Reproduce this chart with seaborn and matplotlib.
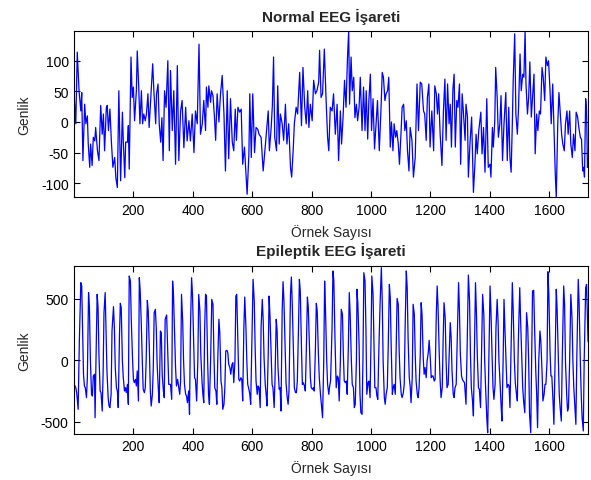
import matplotlib
matplotlib.use('Agg')
import matplotlib.pyplot as plt
import seaborn as sns

# Values (sample index, amplitude) at the visible turning points
normal_sample = [
    1, 6, 11, 17, 23, 26, 30, 36, 40, 45,
    48, 53, 56, 61, 65, 70, 73, 79, 84, 90,
    95, 99, 103, 109, 112, 116, 121, 126, 131, 137,
    141, 146, 151, 157, 163, 166, 171, 174, 180, 183,
    186, 192, 196, 200, 204, 210, 213, 218, 222, 227,
    231, 235, 240, 244, 249, 253, 260, 265, 269, 275,
    278, 283, 287, 292, 296, 300, 305, 310, 316, 321,
    325, 331, 336, 342, 348, 353, 359, 364, 370, 376,
    381, 387, 392, 398, 404, 409, 415, 418, 421, 426,
    432, 437, 443, 446, 451, 454, 460, 463, 468, 473,
    477, 482, 488, 493, 499, 505, 510, 516, 521, 527,
    533, 538, 543, 547, 552, 558, 563, 568, 574, 579,
    583, 589, 592, 597, 602, 608, 613, 619, 623, 630,
    637, 642, 648, 654, 658, 664, 668, 672, 676, 682,
    686, 691, 695, 701, 706, 712, 717, 723, 729, 733,
    738, 742, 748, 753, 760, 766, 771, 777, 782, 787,
    791, 796, 802, 807, 813, 818, 824, 827, 832, 837,
    843, 849, 854, 858, 863, 869, 874, 880, 886, 891,
    897, 901, 906, 911, 916, 921, 925, 928, 933, 937,
    942, 946, 951, 955, 960, 964, 970, 975, 980, 984,
    989, 993, 998, 1002, 1007, 1012, 1017, 1022, 1028, 1034,
    1038, 1042, 1047, 1051, 1056, 1060, 1065, 1069, 1074, 1078,
    1083, 1087, 1092, 1096, 1101, 1105, 1110, 1114, 1119, 1123,
    1128, 1132, 1138, 1143, 1149, 1155, 1160, 1166, 1171, 1177,
    1181, 1186, 1190, 1195, 1199, 1205, 1211, 1215, 1220, 1224,
    1228, 1233, 1239, 1244, 1249, 1253, 1258, 1263, 1267, 1271,
    1276, 1280, 1284, 1289, 1293, 1298, 1302, 1307, 1311, 1317,
    1320, 1325, 1328, 1334, 1339, 1345, 1350, 1354, 1358, 1363,
    1370, 1374, 1379, 1384, 1390, 1395, 1401, 1404, 1409, 1412,
    1417, 1420, 1425, 1429, 1434, 1438, 1443, 1448, 1454, 1459,
    1464, 1468, 1472, 1476, 1479, 1484, 1488, 1493, 1497, 1502,
    1506, 1511, 1515, 1519, 1522, 1527, 1531, 1535, 1540, 1544,
    1549, 1553, 1558, 1562, 1567, 1571, 1576, 1580, 1585, 1589,
    1594, 1598, 1603, 1607, 1612, 1616, 1621, 1624, 1629, 1633,
    1637, 1642, 1646, 1651, 1655, 1660, 1664, 1669, 1673, 1678,
    1682, 1687, 1691, 1696, 1700, 1705, 1709, 1713, 1716, 1719,
    1723, 1726, 1729, 1731,
]
normal_amp = [
    40, -3, 114, 51, 18, 48, -63, 29, -3, 10,
    -36, -74, -36, -71, -25, -31, -9, -47, -63, 27,
    -20, 13, -47, 24, 27, -14, 21, -33, -74, -58,
    -91, -107, 51, -96, 16, -31, -91, -33, -33, -6,
    -77, 106, 40, 57, 2, 51, 116, 57, -3, 51,
    -3, 13, 2, 13, 46, -9, 51, 95, 51, -3,
    46, 62, -3, -33, 7, -63, 51, 24, 100, -47,
    84, -14, 51, -69, 92, -63, 18, 35, -42, 24,
    -31, 2, -31, 13, -50, 18, -3, 62, 127, -20,
    -3, 35, -14, 57, 24, 59, 32, 51, 43, 8,
    -30, 46, 0, 43, 76, 13, -80, 51, -60, 38,
    -33, -47, 21, -30, 24, 16, 21, -69, -41, -85,
    -118, -52, 46, -58, 46, -50, -9, -12, -20, -25,
    -80, -52, -17, 18, -47, -9, 27, 106, -25, -47,
    59, -36, 13, -3, -30, 29, -36, -3, -74, -90,
    -47, -3, 24, 13, 81, -6, 89, 24, -3, 51,
    -9, 29, 2, 68, 46, 51, 65, 117, 40, 46,
    119, 35, -25, -47, 24, 18, 46, -20, 29, -63,
    18, -36, 7, 68, 24, 106, 149, 29, 106, 51,
    73, 7, 29, 2, 24, 73, -14, 57, -14, 51,
    -28, 35, 78, -14, 38, -44, -3, 35, -47, 24,
    81, 73, 35, 46, 51, 73, -41, 0, -47, -3,
    -25, -14, -36, -69, -20, 24, 29, -14, 2, -47,
    -80, -9, -30, -90, -58, 62, -14, 65, 62, 18,
    13, -30, 40, 62, -41, 18, -47, 59, 46, 13,
    46, -20, -71, 18, 70, -30, 62, -3, 29, -41,
    54, 78, -41, 35, 24, 62, -69, 46, 18, -30,
    29, 8, -90, -30, 8, -115, -69, -20, -52, -14,
    16, -52, -9, -82, 38, -74, -69, -90, -9, -41,
    2, 89, 40, -25, -3, 43, -63, -3, 48, -63,
    24, -58, -82, -3, 68, 144, 13, -20, 24, 111,
    51, 78, 73, 149, 62, 13, 40, 98, 8, 40,
    78, -52, 13, -14, 18, 13, 89, 73, 35, 106,
    92, 100, 51, -3, 62, -3, -90, -123, -3, 48,
    18, -20, -36, -47, -3, 18, -20, 18, -36, -58,
    -20, -47, 16, 8, -9, -25, -28, -80, -74, -90,
    38, 18, -74, -60,
]

epileptic_sample = [
    1, 6, 9, 14, 18, 23, 26, 30, 32, 35,
    38, 42, 45, 49, 52, 55, 59, 62, 65, 69,
    71, 74, 78, 81, 84, 88, 91, 95, 98, 101,
    105, 108, 111, 115, 118, 121, 125, 128, 133, 136,
    139, 143, 146, 149, 153, 156, 159, 163, 166, 170,
    173, 176, 180, 183, 186, 190, 193, 197, 200, 203,
    207, 210, 213, 217, 220, 223, 227, 230, 233, 237,
    240, 243, 247, 250, 254, 257, 260, 264, 267, 270,
    274, 277, 280, 284, 287, 291, 294, 297, 301, 304,
    307, 312, 315, 319, 322, 325, 329, 332, 335, 339,
    342, 345, 349, 352, 356, 359, 362, 366, 369, 372,
    376, 379, 382, 386, 389, 392, 396, 399, 403, 406,
    409, 413, 417, 420, 424, 427, 431, 434, 437, 440,
    443, 446, 450, 453, 456, 460, 464, 468, 471, 474,
    478, 481, 484, 488, 491, 495, 498, 501, 505, 508,
    511, 515, 518, 521, 525, 528, 532, 535, 538, 542,
    545, 548, 552, 555, 558, 562, 565, 568, 572, 575,
    579, 582, 585, 589, 592, 595, 599, 603, 607, 610,
    613, 617, 620, 623, 627, 630, 634, 637, 640, 644,
    647, 650, 654, 657, 660, 664, 667, 670, 674, 677,
    681, 684, 687, 691, 694, 697, 701, 704, 707, 711,
    714, 718, 721, 724, 729, 732, 735, 739, 742, 746,
    749, 752, 756, 759, 762, 766, 769, 772, 776, 779,
    782, 786, 789, 793, 796, 799, 803, 806, 809, 813,
    816, 819, 823, 826, 830, 834, 837, 841, 844, 847,
    851, 854, 858, 861, 864, 869, 872, 875, 879, 883,
    887, 890, 893, 897, 900, 904, 907, 910, 914, 917,
    920, 924, 927, 930, 934, 937, 941, 944, 947, 951,
    953, 956, 960, 963, 966, 970, 973, 976, 980, 983,
    986, 990, 993, 997, 1000, 1003, 1007, 1010, 1013, 1017,
    1020, 1023, 1027, 1031, 1035, 1038, 1041, 1045, 1048, 1051,
    1055, 1058, 1062, 1065, 1068, 1072, 1075, 1078, 1082, 1085,
    1088, 1092, 1095, 1098, 1102, 1105, 1109, 1112, 1115, 1119,
    1122, 1125, 1129, 1132, 1135, 1139, 1142, 1146, 1149, 1152,
    1156, 1159, 1162, 1166, 1169, 1172, 1176, 1179, 1182, 1186,
    1189, 1193, 1196, 1199, 1203, 1206, 1209, 1213, 1216, 1220,
    1223, 1226, 1230, 1233, 1236, 1240, 1243, 1246, 1250, 1253,
    1256, 1260, 1263, 1267, 1270, 1273, 1277, 1280, 1283, 1287,
    1290, 1295, 1298, 1301, 1305, 1308, 1311, 1315, 1320, 1324,
    1328, 1332, 1335, 1338, 1342, 1345, 1348, 1352, 1355, 1358,
    1362, 1365, 1369, 1372, 1376, 1380, 1383, 1386, 1390, 1393,
    1397, 1401, 1404, 1408, 1411, 1414, 1418, 1421, 1425, 1428,
    1431, 1435, 1438, 1441, 1445, 1448, 1451, 1455, 1458, 1462,
    1465, 1468, 1472, 1476, 1479, 1483, 1486, 1490, 1493, 1496,
    1501, 1504, 1508, 1511, 1514, 1518, 1521, 1524, 1528, 1531,
    1534, 1538, 1541, 1544, 1548, 1551, 1555, 1558, 1561, 1565,
    1569, 1572, 1576, 1579, 1583, 1586, 1589, 1593, 1596, 1599,
    1603, 1606, 1609, 1613, 1616, 1620, 1624, 1627, 1631, 1634,
    1637, 1641, 1644, 1649, 1652, 1655, 1659, 1662, 1665, 1669,
    1673, 1677, 1680, 1683, 1687, 1690, 1693, 1698, 1701, 1705,
    1708, 1711, 1715, 1718, 1723, 1726, 1729, 1731,
]
epileptic_amp = [
    -200, -225, -265, -401, 155, 629, 602, 100, -116, -211,
    -225, -306, -144, 548, 426, 19, -279, -293, -130, -116,
    -469, -8, 534, 426, 46, -252, -265, -415, -116, 385,
    548, 236, -89, -306, -374, -387, -279, 236, 434, 263,
    -62, -225, -252, -387, 182, 461, 426, -8, -144, -252,
    -225, -265, -198, -360, 683, 642, 317, 19, -157, -184,
    -157, -211, -89, -333, 669, 561, 263, -8, -238, -265,
    -225, -8, 485, 399, 73, -252, -374, -279, -62, 385,
    412, 263, -35, -238, -347, 236, 222, -116, -252, -306,
    331, 366, 128, -198, -198, -198, -320, 642, 534, 182,
    -62, -211, -157, -211, -279, -171, 534, 317, -8, -198,
    -279, -293, -347, -252, -442, 236, 669, 534, 128, -144,
    -157, -333, -8, 534, 399, 46, -171, -279, -347, 263,
    534, 520, -8, -279, -360, -8, 493, 453, 73, -225,
    -252, -360, -8, 331, 222, -171, -225, -401, -360, -225,
    73, 79, 60, -35, -62, -116, -35, -22, -184, -8,
    520, 534, 128, -157, -171, -144, -157, -333, 263, 512,
    263, -8, -198, -238, -279, -360, 128, 656, 480, 100,
    -171, -279, -211, -225, -387, 263, 493, 331, 19, -198,
    -279, -374, 46, 520, 358, 46, -198, -225, -387, -144,
    331, 236, -62, -238, -225, -415, 399, 637, 480, 100,
    -184, -306, -360, -252, 534, 675, 453, 46, -225, -265,
    -265, -171, 263, 656, 561, 100, -198, -184, -211, -252,
    46, 512, 426, 100, -144, -225, -238, -225, -252, 100,
    461, 399, 46, -144, -279, -387, -469, -8, 642, 399,
    -8, -198, -279, -211, -171, 263, 724, 642, 155, -225,
    -130, -144, -333, -8, 412, 371, 46, -171, -184, -171,
    -279, 128, 548, 371, -8, -198, -225, -387, -360, -8,
    575, 453, 128, -279, -428, -442, -8, 710, 642, 263,
    -279, -184, -171, -306, 128, 683, 534, 155, -225, -225,
    -293, -320, 128, 480, 751, 480, -8, -306, -360, -279,
    -225, 100, 615, 507, 128, -279, -225, -198, -279, 128,
    501, 453, 73, -144, -279, -306, -265, -198, 263, 724,
    588, 182, -144, -211, -347, -144, 453, 371, 46, -171,
    -279, -306, -225, 46, 466, 371, 19, -116, -62, -144,
    -8, 60, 160, 46, -144, -130, -130, -171, -157, 371,
    602, 426, 46, -171, -306, -225, 155, 466, 344, -8,
    -225, -198, 19, 304, 182, -89, -279, -306, -225, -198,
    100, 629, 399, 46, -130, -157, -171, -184, -360, 128,
    691, 480, 46, -225, -333, -455, -8, 629, 399, 46,
    -225, -238, -387, -8, 534, 371, -8, -225, -469, -591,
    -8, 602, 399, 19, -225, -320, -198, 263, 493, 317,
    -8, -198, -360, -496, -8, 493, 263, -8, -225, -198,
    -211, -387, 128, 629, 399, -8, -184, -279, -333, 128,
    588, 317, -8, -225, -333, -428, -8, 385, 263, -8,
    -442, -591, -8, 561, 567, 263, -89, -279, -550, -8,
    236, 155, -89, -333, -279, -198, -198, -8, 718, 534,
    73, -130, -130, -333, -523, -8, 575, 399, -8, -279,
    -387, -496, -8, 602, 453, -8, -279, -415, -387, -8,
    534, 344, -8, -225, -387, -523, -8, 656, 453, -8,
    -279, -469, -577, -8, 588, 615, 344, 150,
]

x_ticks = [200, 400, 600, 800, 1000, 1200, 1400, 1600]
normal_yticks = [-100, -50, 0, 50, 100]
epileptic_yticks = [-500, 0, 500]
titles = ['Normal EEG İşareti', 'Epileptik EEG İşareti']
x_label = 'Örnek Sayısı'
y_label = 'Genlik'

sns.set_style('white')
plt.rcParams['font.family'] = ['Liberation Sans', 'DejaVu Sans']
plt.rcParams['axes.unicode_minus'] = False

fig = plt.figure(figsize=(5.91, 4.81), dpi=100)
ax1 = fig.add_axes([0.1257, 0.5877, 0.8693, 0.3464])
ax2 = fig.add_axes([0.1257, 0.0963, 0.8693, 0.348])

panels = [
    (ax1, normal_sample, normal_amp, normal_yticks, (-123, 149), 7),
    (ax2, epileptic_sample, epileptic_amp, epileptic_yticks, (-599, 762), 8),
]

for (ax, xs, ys, yt, ylim, tpad), title in zip(panels, titles):
    sns.lineplot(x=xs, y=ys, ax=ax, color='#0000ff', linewidth=0.9,
                 sort=False, estimator=None)
    ax.set_xlim(1, 1731)
    ax.set_ylim(*ylim)
    ax.set_xticks(x_ticks)
    ax.set_yticks(yt)
    ax.tick_params(direction='in', top=True, right=True, bottom=True, left=True,
                   length=4, width=0.8, labelsize=10, colors='black', pad=4)
    for spine in ax.spines.values():
        spine.set_color('black')
        spine.set_linewidth(0.8)
    ax.set_title(title, fontsize=11, fontweight='bold', pad=tpad)
    ax.set_xlabel(x_label, fontsize=10, labelpad=5)
    ax.set_ylabel(y_label, fontsize=10, labelpad=7)
    ax.grid(False)

fig.savefig('out.png', dpi=100, facecolor='white')
